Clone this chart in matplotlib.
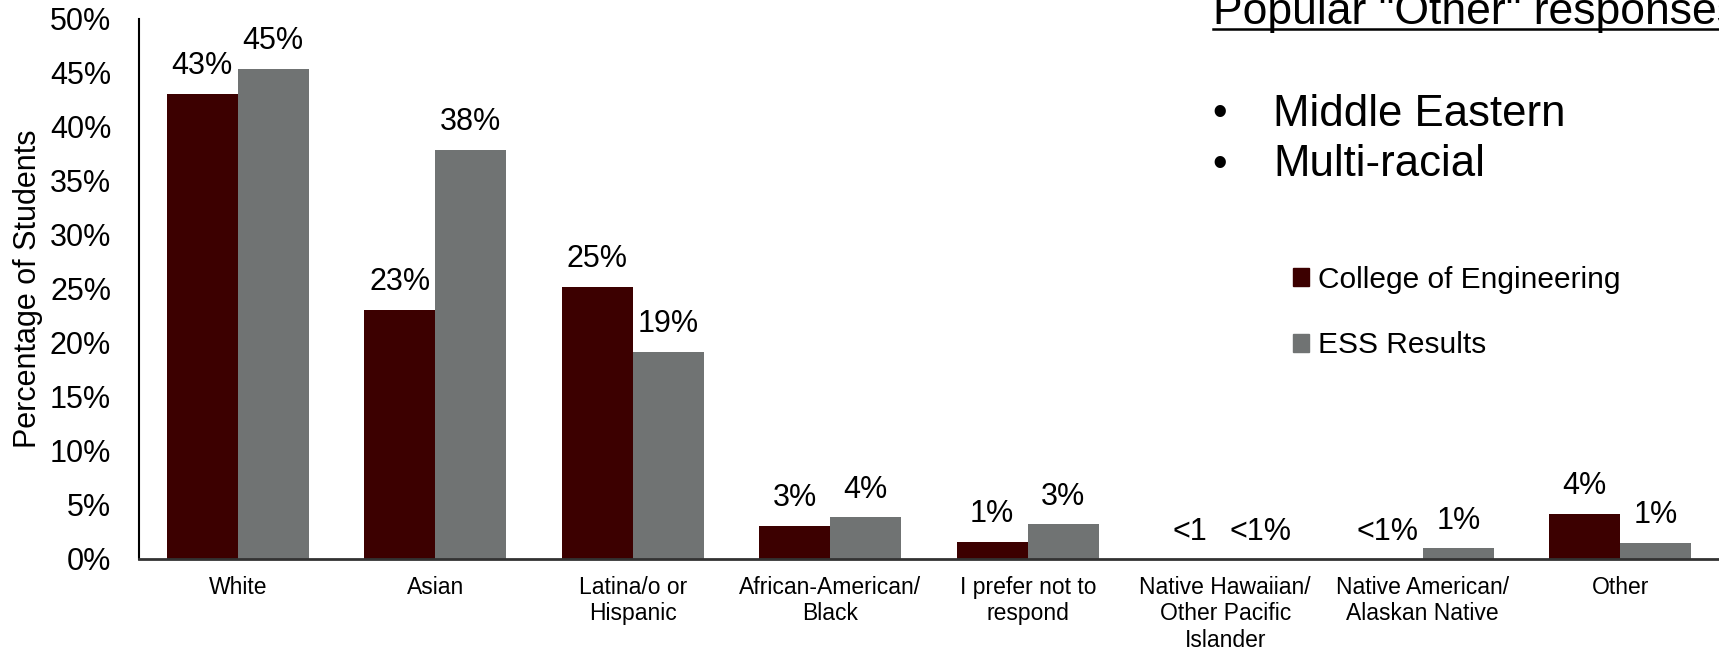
import matplotlib
matplotlib.use("Agg")
import matplotlib.pyplot as plt
import numpy as np
from matplotlib.ticker import FuncFormatter
from matplotlib.patches import Patch
from matplotlib.lines import Line2D

categories = ["White", "Asian", "Latina/o or\nHispanic", "African-American/\nBlack",
              "I prefer not to\nrespond", "Native Hawaiian/\nOther Pacific\nIslander",
              "Native American/\nAlaskan Native", "Other"]
coe_values = [43.1, 23.1, 25.2, 3.1, 1.6, 0.0, 0.0, 4.2]
ess_values = [45.4, 37.9, 19.2, 3.85, 3.2, 0.0, 1.0, 1.5]
coe_labels = ["43%", "23%", "25%", "3%", "1%", "<1", "<1%", "4%"]
ess_labels = ["45%", "38%", "19%", "4%", "3%", "<1%", "1%", "1%"]
series_names = ["College of Engineering", "ESS Results"]
yticks = [0, 5, 10, 15, 20, 25, 30, 35, 40, 45, 50]
other_title = 'Popular "Other" responses'
other_items = ["Middle Eastern", "Multi-racial"]

MAROON = "#3C0000"
GREY = "#707373"
FONT = ["Liberation Sans", "DejaVu Sans"]

plt.rcParams['font.family'] = FONT

fig = plt.figure(figsize=(17.19, 6.5), dpi=100)
ax = fig.add_axes([139/1719, 1 - 559/650, 1 - 139/1719, (559 - 19)/650])

x = np.arange(len(categories))
w = 0.36
b1 = ax.bar(x - w/2, coe_values, w, color=MAROON, label=series_names[0])
b2 = ax.bar(x + w/2, ess_values, w, color=GREY, label=series_names[1])

for bars, labels in ((b1, coe_labels), (b2, ess_labels)):
    for rect, lab in zip(bars, labels):
        ax.annotate(lab, (rect.get_x() + rect.get_width()/2, rect.get_height()),
                    xytext=(0, 9), textcoords="offset points", ha="center", va="bottom",
                    fontsize=22, color="black")

ax.set_xlim(-0.5, len(categories) - 0.5)
ax.set_ylim(0, 50)
ax.set_yticks(yticks)
ax.yaxis.set_major_formatter(FuncFormatter(lambda v, p: f"{int(v)}%"))
ax.tick_params(axis="y", length=0, labelsize=22, pad=20)
ax.set_xticks(x)
ax.set_xticklabels(categories, fontsize=16.5, linespacing=1.2)
ax.tick_params(axis="x", length=0, pad=12)
ax.set_ylabel("Percentage of Students", fontsize=22, labelpad=5)

for s in ["top", "right"]:
    ax.spines[s].set_visible(False)
ax.spines["left"].set_linewidth(1.5)
ax.spines["left"].set_color("black")
ax.spines["bottom"].set_linewidth(2)
ax.spines["bottom"].set_color("#333333")

# Right-hand annotation
t = fig.text(1213/1719, 1 - 24/650, other_title, fontsize=32, ha="left", va="baseline")
fig.add_artist(Line2D([1213/1719, 1.0], [1 - 29/650, 1 - 29/650],
                      transform=fig.transFigure, color="black", lw=1.8))

for i, item in enumerate(other_items):
    yy = 1 - (114 + 51*i)/650
    fig.text(1212/1719, yy, "\u2022", fontsize=30, ha="left", va="center")
    fig.text(1273/1719, yy, item, fontsize=31.5, ha="left", va="center")

handles = [Patch(color=MAROON), Patch(color=GREY)]
fig.legend(handles, series_names, loc="upper left", bbox_to_anchor=(1293/1719, 1 - 266/650),
           frameon=False, fontsize=21.5, handlelength=0.55, handleheight=0.55,
           handletextpad=0.3, labelspacing=1.25, borderpad=0, borderaxespad=0)

fig.savefig("out.png", dpi=100)
